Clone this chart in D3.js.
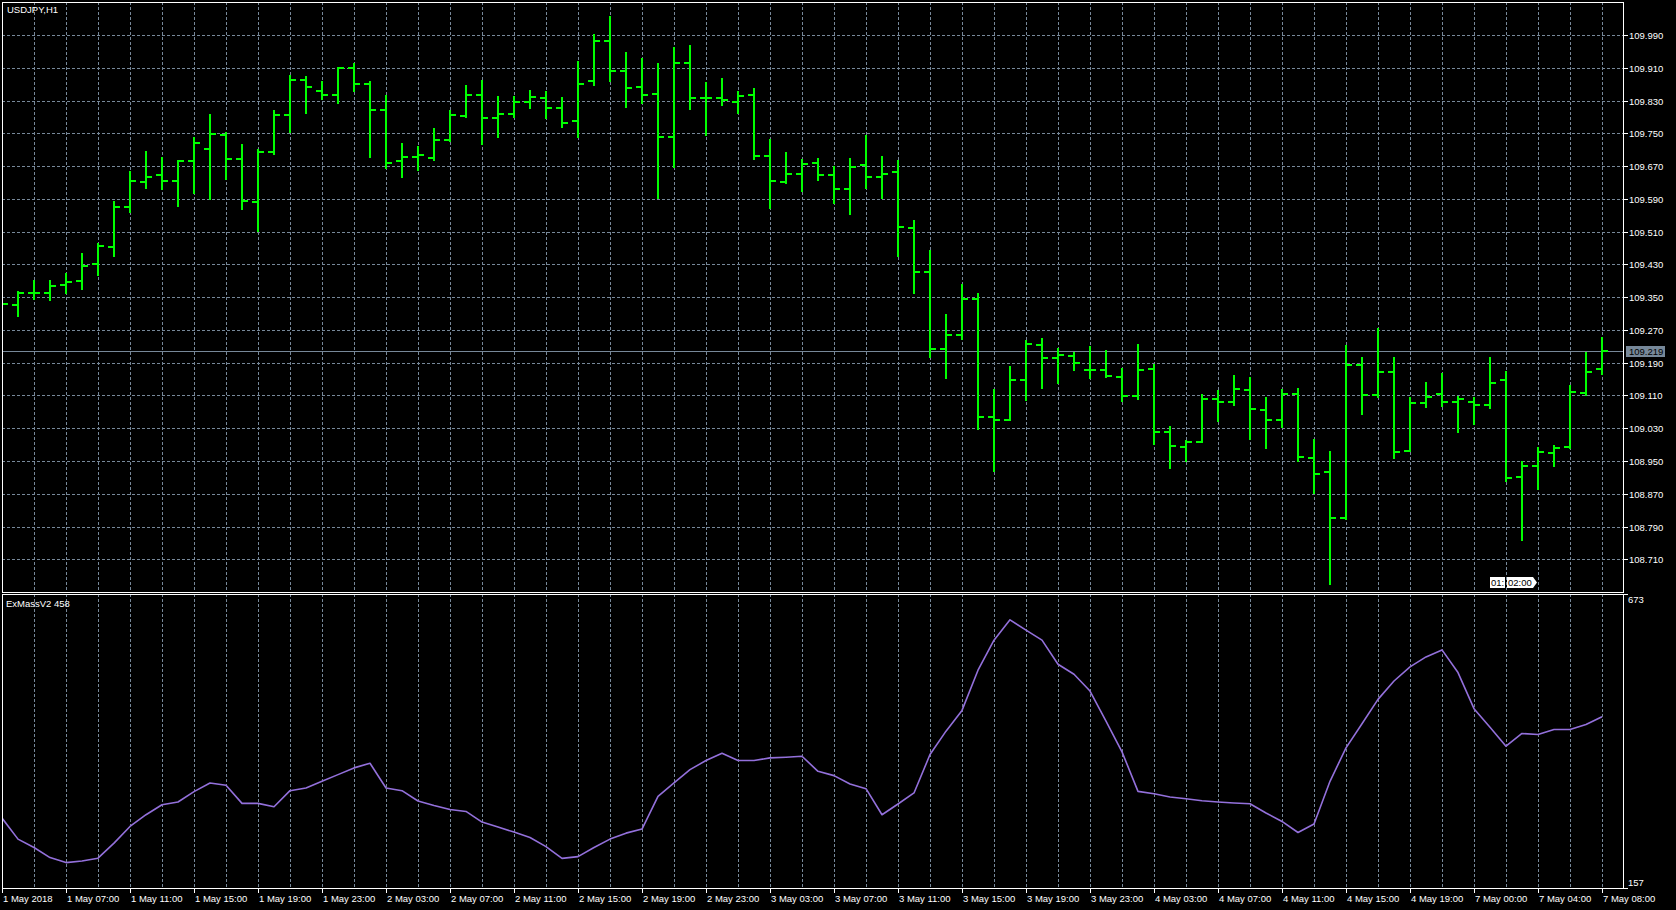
<!DOCTYPE html>
<html>
<head>
<meta charset="utf-8">
<script src="https://cdn.jsdelivr.net/npm/d3@7"></script>
<style>
  html, body { margin: 0; padding: 0; background: #000; }
  svg { display: block; }
  text { font-family: "Liberation Sans", Arial, sans-serif; font-size: 9.5px; fill: #fff; }
</style>
</head>
<body>
<svg id="chart" width="1676" height="910"></svg>
<script>
// ---------------- DATA ----------------
const symbolLabel = "USDJPY,H1";
const indicatorLabel = "ExMassV2 458";

const openPrices = [109.330,109.332,109.359,109.359,109.380,109.390,109.432,109.473,109.571,109.632,
  109.648,109.634,109.683,109.712,109.747,109.688,109.583,109.704,109.795,109.880,
  109.853,109.844,109.910,109.870,109.806,109.682,109.693,109.690,109.734,109.792,
  109.844,109.787,109.797,109.826,109.837,109.812,109.780,109.878,109.975,109.902,
  109.863,109.846,109.741,109.922,109.837,109.836,109.826,109.844,109.695,109.631,
  109.651,109.678,109.649,109.614,109.673,109.643,109.656,109.520,109.411,109.224,
  109.258,109.346,109.058,109.050,109.148,109.234,109.202,109.207,109.173,109.173,
  109.156,109.108,109.175,109.021,108.985,108.996,109.101,109.095,109.124,109.075,
  109.051,109.114,108.958,108.922,108.810,109.185,109.112,109.168,108.974,109.092,
  109.114,109.095,109.095,109.087,109.148,108.912,108.938,108.970,108.984,109.117,
  109.174];
const highPrices = [109.345,109.365,109.392,109.392,109.408,109.457,109.481,109.585,109.658,109.707,
  109.692,109.685,109.742,109.797,109.752,109.724,109.711,109.807,109.892,109.890,
  109.878,109.911,109.922,109.878,109.843,109.726,109.719,109.763,109.807,109.868,
  109.880,109.841,109.841,109.856,109.853,109.839,109.927,109.992,110.037,109.949,
  109.934,109.922,109.961,109.966,109.875,109.885,109.853,109.861,109.736,109.704,
  109.687,109.690,109.670,109.690,109.746,109.695,109.685,109.538,109.466,109.309,
  109.382,109.359,109.125,109.182,109.245,109.250,109.225,109.215,109.231,109.221,
  109.177,109.235,109.186,109.035,109.002,109.113,109.123,109.159,109.156,109.107,
  109.126,109.129,109.004,108.974,109.233,109.204,109.275,109.204,109.106,109.143,
  109.164,109.109,109.107,109.204,109.170,108.949,108.985,108.989,109.136,109.217,
  109.252];
const lowPrices = [109.320,109.305,109.346,109.343,109.361,109.371,109.404,109.450,109.558,109.617,
  109.613,109.573,109.605,109.589,109.639,109.564,109.511,109.699,109.754,109.800,
  109.834,109.823,109.854,109.693,109.666,109.644,109.660,109.685,109.732,109.791,
  109.724,109.742,109.789,109.812,109.787,109.766,109.742,109.868,109.878,109.814,
  109.824,109.592,109.668,109.809,109.746,109.819,109.800,109.687,109.568,109.629,
  109.609,109.636,109.581,109.554,109.617,109.593,109.451,109.359,109.205,109.153,
  109.248,109.027,108.926,109.050,109.099,109.127,109.140,109.172,109.153,109.154,
  109.096,109.101,108.991,108.932,108.951,108.996,109.048,109.087,109.004,108.982,
  109.034,108.950,108.873,108.649,108.809,109.065,109.107,108.957,108.974,109.083,
  109.084,109.020,109.040,109.079,108.901,108.756,108.881,108.937,108.982,109.111,
  109.162];
const closePrices = [109.333,109.359,109.361,109.378,109.387,109.427,109.476,109.571,109.634,109.644,
  109.634,109.683,109.727,109.749,109.688,109.585,109.705,109.795,109.880,109.864,
  109.844,109.910,109.870,109.806,109.678,109.693,109.698,109.734,109.795,109.844,
  109.787,109.797,109.826,109.839,109.812,109.775,109.870,109.975,109.902,109.861,
  109.844,109.741,109.922,109.836,109.835,109.831,109.841,109.695,109.634,109.651,
  109.675,109.649,109.614,109.668,109.643,109.651,109.522,109.411,109.224,109.258,
  109.346,109.058,109.050,109.148,109.236,109.202,109.209,109.189,109.171,109.157,
  109.108,109.173,109.021,108.987,108.996,109.101,109.095,109.126,109.077,109.051,
  109.114,108.960,108.919,108.810,109.185,109.112,109.168,108.973,109.092,109.107,
  109.095,109.102,109.087,109.140,108.909,108.938,108.971,108.982,109.119,109.167,
  109.219];
const exMassValues = [279.7,242.8,228,210.4,201.6,204.5,209.3,235.7,265,285.6,
  303.2,307.9,326.1,341.4,337.2,305.5,305.5,299.6,327.8,332.6,
  344.2,356,367.8,375.9,332.6,327.8,309.7,301.9,294.9,291.4,
  272.7,263.9,255.1,245.6,229.7,209,212,228,242.8,253.3,
  260.4,317.8,341.4,364.8,380.7,393.5,380.7,380.7,385.4,386.5,
  388.2,361.8,354.2,339.6,331.3,285.6,304.4,323.8,391.2,432.3,
  468.7,539.2,592,627.7,609.6,592,549.7,532.1,502.7,449.9,
  396,326.6,322.5,316.7,313.7,310.2,307.9,306.2,304.9,288.6,
  273.8,254.4,269.2,344.2,403,445.3,488.1,520.3,545,562.6,
  574.9,535.1,471.7,439.3,405.8,428.2,426.4,435.3,435.3,444.1,
  457.6];

const priceTicks = [109.990,109.910,109.830,109.750,109.670,109.590,109.510,109.430,109.350,109.270,109.190,109.110,109.030,108.950,108.870,108.790,108.710];
const bidPrice = 109.219;
const indicatorRange = [157, 673];
const timeLabels = ["1 May 2018","1 May 07:00","1 May 11:00","1 May 15:00","1 May 19:00","1 May 23:00",
  "2 May 03:00","2 May 07:00","2 May 11:00","2 May 15:00","2 May 19:00","2 May 23:00",
  "3 May 03:00","3 May 07:00","3 May 11:00","3 May 15:00","3 May 19:00","3 May 23:00",
  "4 May 03:00","4 May 07:00","4 May 11:00","4 May 15:00","4 May 19:00",
  "7 May 00:00","7 May 04:00","7 May 08:00"];
const timeLabelBars = [0,4,8,12,16,20,24,28,32,36,40,44,48,52,56,60,64,68,72,76,80,84,88,92,96,100];
const timerTexts = ["01:", "02:00"];

// ---------------- LAYOUT ----------------
const L = 2, R = 1623;
const mainTop = 2, mainBottom = 592;
const indTop = 594, indBottom = 888;
const GRID = "#778899";
const BAR = "#00ff00";
const LINE = "#9370db";

const svg = d3.select("#chart");
svg.append("rect").attr("width",1676).attr("height",910).attr("fill","#000");

const nBars = closePrices.length;
const x = d3.scaleLinear().domain([0, nBars - 1]).range([2, 1602]);
const y = d3.scaleLinear().domain([108.710, 109.990]).range([559.3, 35]);
const yi = d3.scaleLinear().domain(indicatorRange).range([indBottom, indTop]);

const defs = svg.append("defs");
defs.append("clipPath").attr("id","clipMain").append("rect")
  .attr("x", L).attr("y", mainTop).attr("width", R - L).attr("height", mainBottom - mainTop);
defs.append("clipPath").attr("id","clipInd").append("rect")
  .attr("x", L).attr("y", indTop).attr("width", R - L).attr("height", indBottom - indTop);

const px = v => Math.round(v) + 0.5;

// ---------- grid (main) ----------
const gMain = svg.append("g").attr("clip-path","url(#clipMain)");
gMain.selectAll("line.hg").data(priceTicks).join("line")
  .attr("x1", L).attr("x2", R)
  .attr("y1", d => px(y(d))).attr("y2", d => px(y(d)))
  .attr("stroke", GRID).attr("stroke-width", 1).attr("stroke-dasharray", "3,2")
  .attr("shape-rendering","crispEdges");

const gridBars = d3.range(2, nBars, 2);
gMain.selectAll("line.vg").data(gridBars).join("line")
  .attr("x1", d => px(x(d))).attr("x2", d => px(x(d)))
  .attr("y1", mainTop).attr("y2", mainBottom)
  .attr("stroke", GRID).attr("stroke-width", 1).attr("stroke-dasharray", "3,2")
  .attr("shape-rendering","crispEdges");

// bid line
gMain.append("line")
  .attr("x1", L).attr("x2", R)
  .attr("y1", px(y(bidPrice))).attr("y2", px(y(bidPrice)))
  .attr("stroke", GRID).attr("stroke-width", 1).attr("shape-rendering","crispEdges");

// OHLC bars
const bars = d3.range(nBars).map(i => ({i, o: openPrices[i], h: highPrices[i], l: lowPrices[i], c: closePrices[i]}));
const gb = gMain.append("g").attr("stroke", BAR).attr("stroke-width", 2).attr("shape-rendering","crispEdges");
gb.selectAll("line.hl").data(bars).join("line")
  .attr("x1", d => Math.round(x(d.i))).attr("x2", d => Math.round(x(d.i)))
  .attr("y1", d => Math.round(y(d.h))).attr("y2", d => Math.round(y(d.l)) + 1);
gb.selectAll("line.op").data(bars).join("line")
  .attr("x1", d => Math.round(x(d.i)) - 6).attr("x2", d => Math.round(x(d.i)))
  .attr("y1", d => Math.round(y(d.o))).attr("y2", d => Math.round(y(d.o)));
gb.selectAll("line.cl").data(bars).join("line")
  .attr("x1", d => Math.round(x(d.i))).attr("x2", d => Math.round(x(d.i)) + 6)
  .attr("y1", d => Math.round(y(d.c))).attr("y2", d => Math.round(y(d.c)));

// timer label (01: 02:00)
const tg = svg.append("g");
tg.append("rect").attr("x",1490).attr("y",577).attr("width",15).attr("height",11).attr("fill","#fff");
tg.append("path").attr("d","M1507,577 H1533 L1537,582.5 L1533,588 H1507 Z").attr("fill","#fff");
tg.append("text").attr("x",1491).attr("y",586).style("fill","#000").text(timerTexts[0]);
tg.append("text").attr("x",1508).attr("y",586).style("fill","#000").text(timerTexts[1]);

// ---------- indicator panel ----------
const gInd = svg.append("g").attr("clip-path","url(#clipInd)");
gInd.selectAll("line.vg").data(gridBars).join("line")
  .attr("x1", d => px(x(d))).attr("x2", d => px(x(d)))
  .attr("y1", indTop).attr("y2", indBottom)
  .attr("stroke", GRID).attr("stroke-width", 1).attr("stroke-dasharray", "3,2")
  .attr("shape-rendering","crispEdges");

const line = d3.line().x((d, i) => x(i)).y(d => yi(d));
gInd.append("path").datum(exMassValues)
  .attr("d", line).attr("fill","none").attr("stroke", LINE).attr("stroke-width", 1.6)
  .attr("stroke-linejoin","round");

// ---------- frames ----------
const frame = svg.append("g").attr("stroke","#fff").attr("stroke-width",1).attr("fill","none").attr("shape-rendering","crispEdges");
frame.append("rect").attr("x", L + 0.5).attr("y", mainTop + 0.5).attr("width", R - L).attr("height", mainBottom - mainTop);
frame.append("rect").attr("x", L + 0.5).attr("y", indTop + 0.5).attr("width", R - L).attr("height", indBottom - indTop);

// ---------- price axis ----------
const pa = svg.append("g");
pa.selectAll("line").data(priceTicks).join("line")
  .attr("x1", R).attr("x2", R + 5)
  .attr("y1", d => px(y(d))).attr("y2", d => px(y(d)))
  .attr("stroke","#fff").attr("shape-rendering","crispEdges");
pa.selectAll("text").data(priceTicks).join("text")
  .attr("x", R + 6).attr("y", d => Math.round(y(d)) + 4)
  .text(d => d3.format(".3f")(d));

// bid label
const by = Math.round(y(bidPrice));
svg.append("rect").attr("x", R + 3).attr("y", by - 5).attr("width", 39).attr("height", 11).attr("fill", GRID);
svg.append("text").attr("x", R + 6).attr("y", by + 4).style("fill","#000").text(d3.format(".3f")(bidPrice));

// indicator axis
const ia = svg.append("g");
ia.selectAll("line").data(indicatorRange).join("line")
  .attr("x1", R).attr("x2", R + 5)
  .attr("y1", d => px(yi(d))).attr("y2", d => px(yi(d)))
  .attr("stroke","#fff").attr("shape-rendering","crispEdges");
ia.append("text").attr("x", R + 5).attr("y", indTop + 9).text(indicatorRange[1]);
ia.append("text").attr("x", R + 5).attr("y", indBottom - 2).text(indicatorRange[0]);

// ---------- time axis ----------
const ta = svg.append("g");
ta.selectAll("line").data(timeLabelBars).join("line")
  .attr("x1", d => px(x(d))).attr("x2", d => px(x(d)))
  .attr("y1", indBottom).attr("y2", indBottom + 5)
  .attr("stroke","#fff").attr("shape-rendering","crispEdges");
ta.selectAll("text").data(timeLabelBars).join("text")
  .attr("x", d => Math.round(x(d)) + 1).attr("y", indBottom + 14)
  .text((d, i) => timeLabels[i]);

// ---------- titles ----------
svg.append("text").attr("x", 7).attr("y", 13).text(symbolLabel);
svg.append("text").attr("x", 6).attr("y", indTop + 13).text(indicatorLabel);
</script>
</body>
</html>
